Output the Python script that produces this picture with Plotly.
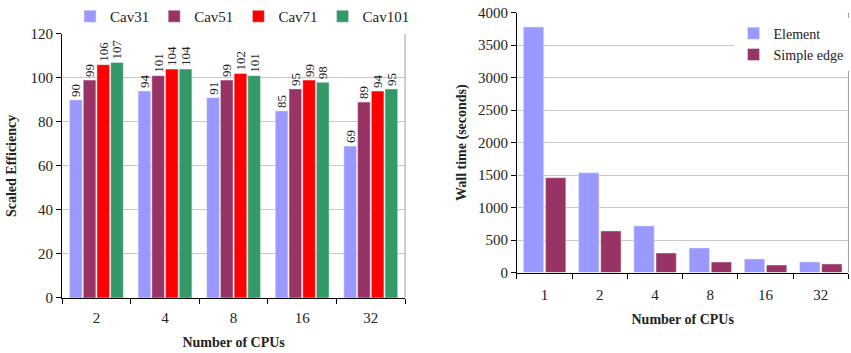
import plotly.graph_objects as go

# Left panel: scaled efficiency per cavity size
cpus_left = ["2", "4", "8", "16", "32"]
cav31 = [90, 94, 91, 85, 69]
cav51 = [99, 101, 99, 95, 89]
cav71 = [106, 104, 102, 99, 94]
cav101 = [107, 104, 101, 98, 95]

# Right panel: wall time in seconds
cpus_right = ["1", "2", "4", "8", "16", "32"]
element_time = [3780, 1535, 718, 378, 208, 162]
simple_edge_time = [1460, 640, 300, 162, 116, 131]

FONT = "Liberation Serif, Times New Roman, serif"
C_LAV = "#9999FF"
C_PLUM = "#993366"
C_RED = "#FF0000"
C_GREEN = "#339966"
TXT = "#222"

fig = go.Figure()

for name, vals, col in [("Cav31", cav31, C_LAV), ("Cav51", cav51, C_PLUM),
                        ("Cav71", cav71, C_RED), ("Cav101", cav101, C_GREEN)]:
    fig.add_trace(go.Bar(
        x=cpus_left, y=vals, name=name, marker_color=col,
        text=[str(v) for v in vals], textposition="outside", textangle=-90,
        constraintext="none",
        textfont=dict(family=FONT, size=13, color=TXT),
        cliponaxis=False, xaxis="x", yaxis="y", legend="legend",
        offsetgroup=name,
    ))

for name, vals, col in [("Element", element_time, C_LAV),
                        ("Simple edge", simple_edge_time, C_PLUM)]:
    fig.add_trace(go.Bar(
        x=cpus_right, y=vals, name=name, marker_color=col,
        xaxis="x2", yaxis="y2", legend="legend2", offsetgroup=name,
    ))

axis_common = dict(
    showline=True, linecolor="#000", linewidth=1,
    ticks="outside", ticklen=5, tickcolor="#000", automargin=False,
    tickfont=dict(family=FONT, size=15, color=TXT),
)
title_font = dict(family=FONT, size=14, color=TXT)

fig.update_layout(
    width=851, height=353,
    margin=dict(l=0, r=0, t=0, b=0),
    paper_bgcolor="white", plot_bgcolor="white",
    barmode="group", bargap=0.2, bargroupgap=0.08,
    font=dict(family=FONT, color=TXT),
    showlegend=True,
    xaxis=dict(domain=[0.073, 0.476], anchor="y", type="category",
               tickson="boundaries", ticklabelstandoff=6,
               title=dict(text="<b>Number of CPUs</b>", standoff=12, font=title_font),
               showgrid=False, **axis_common),
    yaxis=dict(domain=[0.156, 0.904], anchor="x", range=[0, 120],
               dtick=20, showgrid=True, gridcolor="#C8C8C8",
               title=dict(text="<b>Scaled Efficiency</b>", standoff=10, font=title_font),
               **axis_common),
    xaxis2=dict(domain=[0.6075, 0.997], anchor="y2", type="category",
                tickson="boundaries", ticklabelstandoff=8,
                title=dict(text="<b>Number of CPUs</b>", standoff=12, font=title_font),
                showgrid=False, **axis_common),
    yaxis2=dict(domain=[0.228, 0.964], anchor="x2", range=[0, 4000],
                dtick=500, showgrid=True, gridcolor="#C8C8C8",
                title=dict(text="<b>Wall time (seconds)</b>", standoff=8, font=title_font),
                **axis_common),
    legend=dict(orientation="h", x=0.285, y=1.0, xanchor="center", yanchor="top",
                font=dict(family=FONT, size=15, color=TXT),
                itemwidth=30, tracegroupgap=0, bgcolor="rgba(0,0,0,0)"),
    legend2=dict(orientation="v", x=0.862, y=0.95, xanchor="left", yanchor="top",
                 font=dict(family=FONT, size=14, color=TXT),
                 itemwidth=30, bgcolor="white", tracegroupgap=0),
)

# light right-hand frame lines of both plot areas
for xr, yr in [("x domain", "y domain"), ("x2 domain", "y2 domain")]:
    fig.add_shape(type="line", xref=xr, yref=yr, x0=1, x1=1, y0=0, y1=1,
                  line=dict(color="#A0A0A0", width=1))

fig.write_html("out.html")
